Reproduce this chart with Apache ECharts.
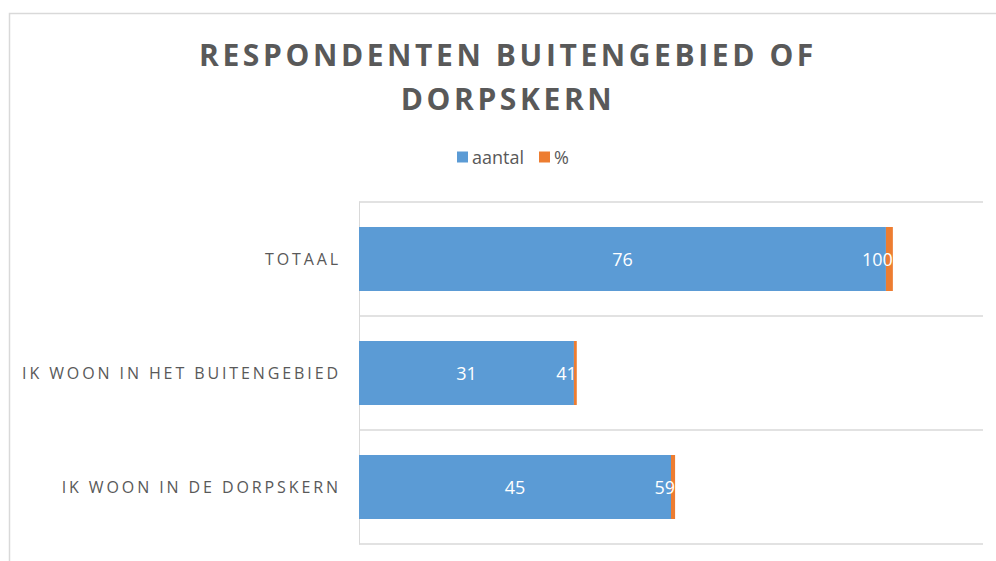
<!DOCTYPE html>
<html>
<head>
<meta charset="utf-8">
<script src="https://cdn.jsdelivr.net/npm/echarts@6/dist/echarts.min.js"></script>
<style>
  html, body { margin: 0; padding: 0; background: #fff; }
  #chart { width: 996px; height: 561px; }
</style>
</head>
<body>
<div id="chart"></div>
<script>
const categories = ['TOTAAL', 'IK WOON IN HET BUITENGEBIED', 'IK WOON IN DE DORPSKERN'];
const aantal = [76, 31, 45];
// share stored as a fraction, shown as a whole percentage
const pct = [1.00, 0.41, 0.59];

const textColor = '#595959';
const gridColor = '#D9D9D9';

const chart = echarts.init(document.getElementById('chart'), null, { renderer: 'svg' });

const option = {
    animation: false,
    color: ['#5B9BD5', '#ED7D31'],
    title: {
        text: 'RESPONDENTEN BUITENGEBIED OF\nDORPSKERN',
        left: 503,
        textAlign: 'center',
        top: 27,
        textStyle: {
            fontFamily: 'Open Sans',
            fontSize: 30,
            fontWeight: 'bold',
            color: textColor,
            lineHeight: 44
        }
    },
    legend: {
        data: ['aantal', '%'],
        top: 143,
        left: 452,
        itemWidth: 11,
        itemHeight: 11,
        itemGap: 15,
        icon: 'rect',
        textStyle: { fontFamily: 'Open Sans', fontSize: 18, color: textColor, padding: [0, 0, 0, -1] }
    },
    grid: { left: 359, right: 13, top: 202, bottom: 17 },
    xAxis: {
        type: 'value',
        min: 0,
        max: 90,
        show: false
    },
    yAxis: {
        type: 'category',
        inverse: true,
        data: categories,
        axisLine: { show: true, lineStyle: { color: gridColor, width: 1 } },
        axisTick: { show: false },
        splitLine: { show: true, lineStyle: { color: gridColor, width: 1.5 } },
        axisLabel: { color: textColor, fontFamily: 'Open Sans', fontSize: 16, margin: 18 }
    },
    graphic: [{
        type: 'rect',
        shape: { x: 9.5, y: 13.5, width: 1000, height: 600 },
        style: { fill: 'none', stroke: gridColor, lineWidth: 1.5 },
        silent: true
    }],
    series: [
        {
            name: 'aantal',
            type: 'bar',
            stack: 'tot',
            barWidth: 64,
            data: aantal,
            label: {
                show: true,
                position: 'inside',
                color: '#fff',
                fontFamily: 'Open Sans',
                fontSize: 18
            }
        },
        {
            name: '%',
            type: 'bar',
            stack: 'tot',
            barWidth: 64,
            data: pct,
            label: {
                show: true,
                position: 'insideRight',
                distance: 0,
                color: '#fff',
                fontFamily: 'Open Sans',
                fontSize: 18,
                formatter: (p) => Math.round(p.value * 100)
            }
        }
    ]
};

chart.setOption(option);

// spaced-out capitals for the title and category labels
function spaceLetters() {
    document.querySelectorAll('#chart text').forEach((t) => {
        const size = parseFloat(getComputedStyle(t).fontSize);
        if (size >= 28) t.setAttribute('letter-spacing', '3.6');
        else if (size === 16) t.setAttribute('letter-spacing', '2.9');
    });
}
chart.on('finished', spaceLetters);
spaceLetters();
</script>
</body>
</html>
